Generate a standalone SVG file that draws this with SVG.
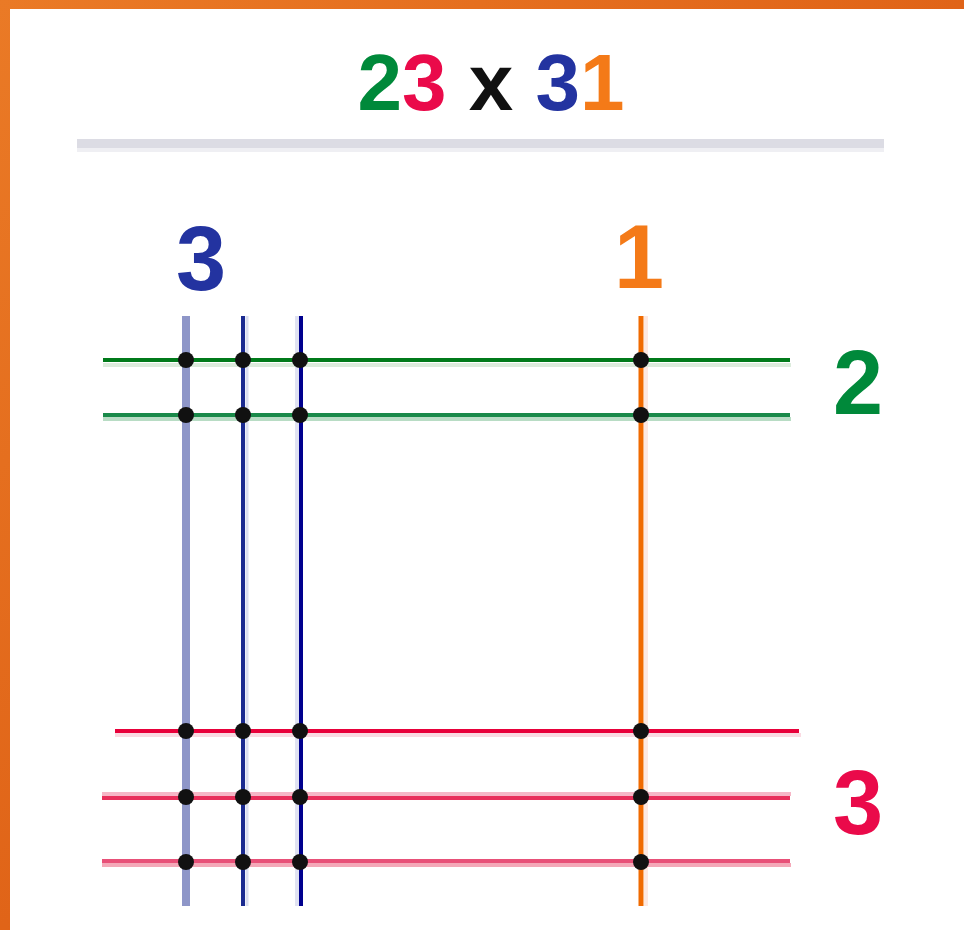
<svg xmlns="http://www.w3.org/2000/svg" width="964" height="930" viewBox="0 0 964 930">
  <defs>
    <linearGradient id="frame" x1="0" y1="0" x2="1" y2="1">
      <stop offset="0" stop-color="#ea7a26"/>
      <stop offset="0.5" stop-color="#e06418"/>
      <stop offset="1" stop-color="#d04c10"/>
    </linearGradient>
    <style>
      .t { font-family: "Liberation Sans", Arial, sans-serif; font-weight: bold; }
      .dot { fill: #111111; }
      .halo { stroke-width: 4; fill: none; }
      .ln { stroke-width: 4; fill: none; }
    </style>
  </defs>

  <rect x="0" y="0" width="964" height="930" fill="url(#frame)"/>
  <rect x="10" y="9" width="954" height="921" fill="#ffffff"/>

  <g id="title">
    <text class="t" x="491" y="110" font-size="80" text-anchor="middle"><tspan fill="#00893a">2</tspan><tspan fill="#ea0a4a">3</tspan><tspan fill="#111111"> x </tspan><tspan fill="#2333a0">3</tspan><tspan fill="#f47a18">1</tspan></text>
    <rect x="77" y="139" width="807" height="9" fill="#dcdce4"/>
    <rect x="77" y="148" width="807" height="4" fill="#efeff3"/>
  </g>

  <g id="labels">
    <text class="t" x="201" y="290" font-size="90" text-anchor="middle" fill="#2333a0">3</text>
    <text class="t" x="639" y="288" font-size="90" text-anchor="middle" fill="#f47a18">1</text>
    <text class="t" x="858" y="414" font-size="90" text-anchor="middle" fill="#00893a">2</text>
    <text class="t" x="858" y="834" font-size="90" text-anchor="middle" fill="#ea0a4a">3</text>
  </g>

  <g id="connectors">
    <line x1="186" y1="316" x2="186" y2="906" stroke="#8e96c8" stroke-width="8"/>
    <line x1="247" y1="316" x2="247" y2="906" stroke="#dadef0" stroke-width="3"/>
    <line x1="243" y1="316" x2="243" y2="906" stroke="#1a2a90" stroke-width="4"/>
    <line x1="297" y1="316" x2="297" y2="906" stroke="#e0e2f2" stroke-width="4"/>
    <line x1="301" y1="316" x2="301" y2="906" stroke="#00008e" stroke-width="4"/>
    <line x1="646" y1="316" x2="646" y2="906" stroke="#fde8e0" stroke-width="4"/>
    <line x1="641" y1="316" x2="641" y2="906" stroke="#f06a00" stroke-width="5"/>

    <line x1="103" y1="365" x2="791" y2="365" class="halo" stroke="#dcebdc"/>
    <line x1="103" y1="360" x2="790" y2="360" class="ln" stroke="#007a1a" stroke-width="5"/>
    <line x1="103" y1="419" x2="791" y2="419" class="halo" stroke="#b8dcc4"/>
    <line x1="103" y1="415" x2="790" y2="415" class="ln" stroke="#1a8a4a"/>

    <line x1="115" y1="735" x2="801" y2="735" class="halo" stroke="#fadae2"/>
    <line x1="115" y1="731" x2="799" y2="731" class="ln" stroke="#e8003a"/>
    <line x1="102" y1="794" x2="791" y2="794" class="halo" stroke="#f6b6c6"/>
    <line x1="102" y1="798" x2="790" y2="798" class="ln" stroke="#e82e5a"/>
    <line x1="102" y1="865" x2="791" y2="865" class="halo" stroke="#f4a8b8"/>
    <line x1="102" y1="861" x2="790" y2="861" class="ln" stroke="#e85078"/>
  </g>

  <g id="dots">
    <g id="row-360">
      <circle class="dot" cx="186" cy="360" r="8"/>
      <circle class="dot" cx="243" cy="360" r="8"/>
      <circle class="dot" cx="300" cy="360" r="8"/>
      <circle class="dot" cx="641" cy="360" r="8"/>
    </g>
    <g id="row-415">
      <circle class="dot" cx="186" cy="415" r="8"/>
      <circle class="dot" cx="243" cy="415" r="8"/>
      <circle class="dot" cx="300" cy="415" r="8"/>
      <circle class="dot" cx="641" cy="415" r="8"/>
    </g>
    <g id="row-731">
      <circle class="dot" cx="186" cy="731" r="8"/>
      <circle class="dot" cx="243" cy="731" r="8"/>
      <circle class="dot" cx="300" cy="731" r="8"/>
      <circle class="dot" cx="641" cy="731" r="8"/>
    </g>
    <g id="row-797">
      <circle class="dot" cx="186" cy="797" r="8"/>
      <circle class="dot" cx="243" cy="797" r="8"/>
      <circle class="dot" cx="300" cy="797" r="8"/>
      <circle class="dot" cx="641" cy="797" r="8"/>
    </g>
    <g id="row-862">
      <circle class="dot" cx="186" cy="862" r="8"/>
      <circle class="dot" cx="243" cy="862" r="8"/>
      <circle class="dot" cx="300" cy="862" r="8"/>
      <circle class="dot" cx="641" cy="862" r="8"/>
    </g>
  </g>
</svg>
